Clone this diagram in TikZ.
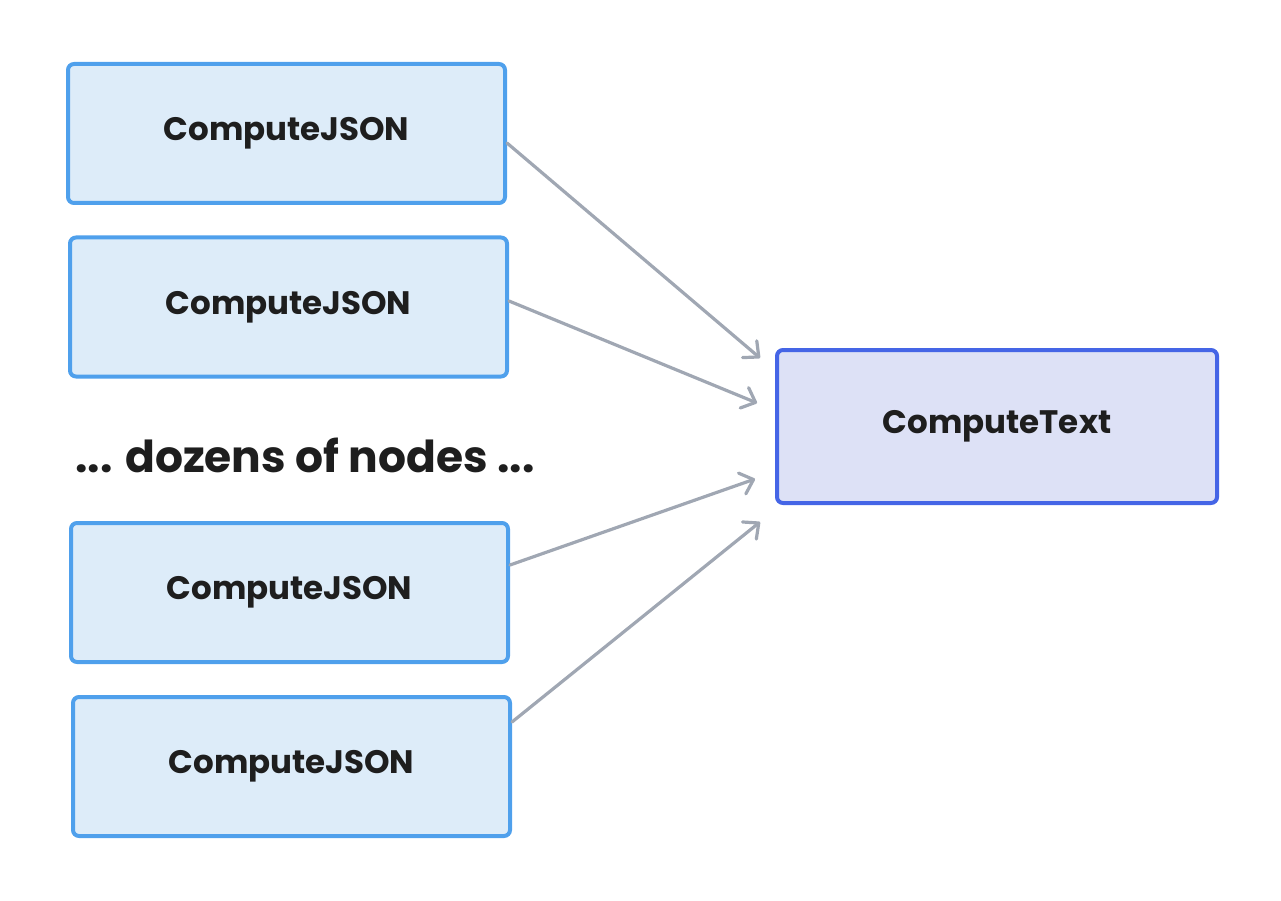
\documentclass[tikz,border=0pt]{standalone}
\usepackage{fontspec}
\setmainfont{Poppins}
\usetikzlibrary{arrows.meta}
\definecolor{jsonfill}{HTML}{DDECF9}
\definecolor{jsonline}{HTML}{4FA0EC}
\definecolor{textfill}{HTML}{DDE1F6}
\definecolor{textline}{HTML}{4565E6}
\definecolor{arrowgray}{HTML}{A0A7B3}
\definecolor{ink}{HTML}{1E1E1E}
\begin{document}
\begin{tikzpicture}[x=1pt,y=-1pt,
  jsonbox/.style={draw=jsonline,fill=jsonfill,line width=4pt,rounded corners=6pt,
    minimum width=437pt,minimum height=139pt,inner sep=0pt,
    font=\fontsize{32.5}{36}\selectfont\bfseries,text=ink},
  textbox/.style={draw=textline,fill=textfill,line width=4pt,rounded corners=6pt,
    minimum width=440pt,minimum height=153pt,inner sep=0pt,
    font=\fontsize{32.5}{36}\selectfont\bfseries,text=ink},
  conn/.style={draw=arrowgray,line width=3.2pt,line cap=round,
    -{Straight Barb[length=12pt,width=22pt,line width=3.2pt,round]}}
]
\useasboundingbox (0,0) rectangle (1281,901);
\node[jsonbox] (j1) at (286.5,133.5) {ComputeJSON};
\node[jsonbox] (j2) at (288.5,307) {ComputeJSON};
\node[font=\fontsize{44}{48}\selectfont\bfseries,text=ink] (dz) at (305,455) {... dozens of nodes ...};
\node[jsonbox] (j3) at (289.5,592.5) {ComputeJSON};
\node[jsonbox] (j4) at (291.5,766.5) {ComputeJSON};
\node[textbox] (t) at (997,426.5) {ComputeText};
\coordinate (e1) at (760,358);
\coordinate (e2) at (757,403);
\coordinate (e3) at (755,479);
\coordinate (e4) at (760,522);
\draw[conn] (j1.east |- 0,143) -- (e1);
\draw[conn] (j2.east |- 0,301) -- (e2);
\draw[conn] (j3.east |- 0,565) -- (e3);
\draw[conn] (j4.east |- 0,722) -- (e4);
\end{tikzpicture}
\end{document}
